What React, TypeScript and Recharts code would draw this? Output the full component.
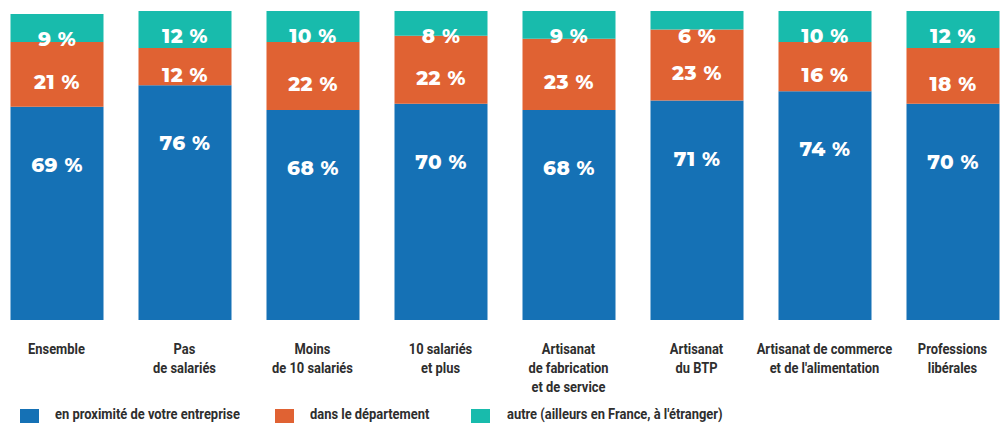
import React from "react";
import { BarChart, Bar, XAxis, YAxis, LabelList, Legend } from "recharts";

const categories = [
  "Ensemble",
  "Pas\nde salariés",
  "Moins\nde 10 salariés",
  "10 salariés\net plus",
  "Artisanat\nde fabrication\net de service",
  "Artisanat\ndu BTP",
  "Artisanat de commerce\net de l'alimentation",
  "Professions\nlibérales",
];
const proximite = [69, 76, 68, 70, 68, 71, 74, 70];
const departement = [21, 12, 22, 22, 23, 23, 16, 18];
const autre = [9, 12, 10, 8, 9, 6, 10, 12];

const seriesNames = [
  "en proximité de votre entreprise",
  "dans le département",
  "autre (ailleurs en France, à l'étranger)",
];

const BLUE = "#1571b5";
const ORANGE = "#e06233";
const TEAL = "#18bbac";
const LABEL_FONT = "Montserrat, 'Open Sans', sans-serif";
const CAT_FONT = "Roboto, 'Noto Sans', sans-serif";
const SQUEEZE = 0.86; // no condensed font available, squeeze horizontally

const data = categories.map((name, i) => ({
  name,
  proximite: proximite[i],
  departement: departement[i],
  autre: autre[i],
}));

function CategoryTick({ x, y, payload }: any) {
  const lines = String(payload.value).split("\n");
  return (
    <text x={x} y={y + 21} textAnchor="middle" fill="#2e2e2e" fontSize={15} fontWeight={700}
      fontFamily={CAT_FONT} dominantBaseline="central"
      transform={`translate(${x} 0) scale(${SQUEEZE} 1) translate(${-x} 0)`}>
      {lines.map((l, i) => (
        <tspan key={i} x={x} dy={i === 0 ? 0 : 19}>{l}</tspan>
      ))}
    </text>
  );
}

// label placement: shift used by the original layout
const makeLabel = (shift: (y: number, h: number) => number) => (props: any) => {
  const { x, y, width, height, value } = props;
  return (
    <text x={x + width / 2} y={shift(y, height)} textAnchor="middle" dominantBaseline="central"
      fill="#fff" fontSize={20} fontWeight={800} fontFamily={LABEL_FONT} letterSpacing={0.5}>
      {value} %
    </text>
  );
};

function LegendContent() {
  const items = [
    { color: BLUE, sq: 20, tx: 55 },
    { color: ORANGE, sq: 275, tx: 310 },
    { color: TEAL, sq: 471, tx: 507 },
  ];
  return (
    <div style={{ position: "relative", width: 1003, height: 14 }}>
      {items.map((it, i) => (
        <React.Fragment key={i}>
          <div style={{ position: "absolute", left: it.sq, top: 0, width: 19, height: 14, background: it.color }} />
          <div style={{ position: "absolute", left: it.tx, top: -2, fontFamily: CAT_FONT, fontWeight: 700, fontSize: 15, color: "#2e2e2e", whiteSpace: "nowrap", lineHeight: "14px", transform: `scaleX(${SQUEEZE})`, transformOrigin: "left center" }}>
            {seriesNames[i]}
          </div>
        </React.Fragment>
      ))}
    </div>
  );
}

export default function App() {
  return (
    <div style={{ position: "absolute", left: 0, top: 0, width: 1003, height: 423, overflow: "hidden", background: "#fff" }}>
      <BarChart width={1003} height={423} data={data} margin={{ top: 11, right: -13.5, left: -7.5, bottom: 0 }}
        barCategoryGap={35}>
        <XAxis dataKey="name" axisLine={false} tickLine={false} interval={0} height={89} tick={<CategoryTick />} />
        <YAxis hide domain={[0, 100]} />
        <Legend verticalAlign="bottom" height={14} content={<LegendContent />}
          wrapperStyle={{ left: 0, bottom: 0, width: 1003, height: 14 }} />
        <Bar dataKey="proximite" stackId="a" fill={BLUE} isAnimationActive={false} barSize={93}>
          <LabelList dataKey="proximite" content={makeLabel((y) => y + 58)} />
        </Bar>
        <Bar dataKey="departement" stackId="a" fill={ORANGE} isAnimationActive={false} barSize={93}>
          <LabelList dataKey="departement" content={makeLabel((y, h) => y + h / 2 + 8)} />
        </Bar>
        <Bar dataKey="autre" stackId="a" fill={TEAL} isAnimationActive={false} barSize={93}>
          <LabelList dataKey="autre" content={makeLabel((y) => y + 25)} />
        </Bar>
      </BarChart>
    </div>
  );
}
